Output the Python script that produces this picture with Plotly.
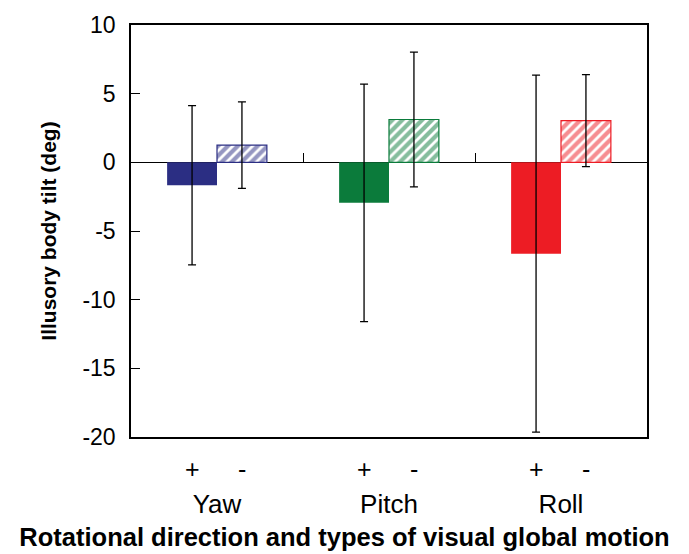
import plotly.graph_objects as go

categories = ["Yaw", "Pitch", "Roll"]
plus_vals = [-1.67, -2.95, -6.65]
plus_err = [5.8, 8.65, 13.0]
minus_vals = [1.25, 3.12, 3.04]
minus_err = [3.15, 4.9, 3.35]
colors = ["#2B2E83", "#0B7B3B", "#ED1C24"]
y_ticks = [10, 5, 0, -5, -10, -15, -20]
y_ticktext = ["10", "5", "0", "-5", "-10", "-15", "-20"]

FONT = "Liberation Sans, Arial, sans-serif"

fig = go.Figure()
fig.add_trace(go.Bar(
    x=categories, y=plus_vals, name="+",
    marker=dict(color=colors, line=dict(width=0)),
    error_y=dict(type="data", array=plus_err, color="black", thickness=1.3, width=4),
    offsetgroup="plus",
))
fig.add_trace(go.Bar(
    x=categories, y=minus_vals, name="-",
    marker=dict(color="white", line=dict(color=colors, width=1.2),
                pattern=dict(shape="/", fgcolor=colors, bgcolor="white",
                             size=7, solidity=0.6, fillmode="overlay")),
    error_y=dict(type="data", array=minus_err, color="black", thickness=1.3, width=4),
    offsetgroup="minus",
))
# invisible trace for boundary ticks on xaxis2
fig.add_trace(go.Scatter(x=[0.5, 1.5], y=[None, None], xaxis="x2", yaxis="y",
                         showlegend=False, hoverinfo="skip"))

fig.update_layout(
    width=689, height=554,
    margin=dict(l=131, r=42, t=23, b=117),
    paper_bgcolor="white", plot_bgcolor="white",
    barmode="group", bargap=0.42, bargroupgap=0,
    showlegend=False,
    font=dict(family=FONT, color="black", size=22),
    title=dict(text="<b>Rotational direction and types of visual global motion</b>",
               font=dict(size=25.5), x=0.5, xref="container", xanchor="center",
               y=0.031, yref="container", yanchor="middle"),
    xaxis=dict(
        type="category", range=[-0.5, 2.5],
        showline=True, linecolor="black", linewidth=1.5, mirror=True,
        ticks="", showgrid=False,
        tickfont=dict(size=26),
        ticklabelstandoff=43,
    ),
    xaxis2=dict(
        overlaying="x", anchor="free", position=2/3, side="bottom",
        range=[-0.5, 2.5], type="linear",
        tickvals=[0.5, 1.5], ticks="inside", ticklen=9, tickwidth=1.3, tickcolor="black",
        showticklabels=False, showline=False, showgrid=False, zeroline=False,
    ),
    yaxis=dict(
        range=[-20, 10], tickvals=y_ticks, ticktext=y_ticktext,
        showline=True, linecolor="black", linewidth=1.5, mirror=True,
        ticks="inside", ticklen=9, tickwidth=1.3, tickcolor="black",
        showgrid=False, zeroline=True, zerolinecolor="black", zerolinewidth=1.3,
        tickfont=dict(size=23), ticklabelstandoff=9,
        title=dict(text="<b>Illusory body tilt (deg)</b>", font=dict(size=21), standoff=20),
    ),
)

for i, c in enumerate(categories):
    fig.add_annotation(x=c, y=0, xref="x", yref="paper", text="+", showarrow=False,
                       xshift=-25, yshift=-32, yanchor="middle", font=dict(size=25))
    fig.add_annotation(x=c, y=0, xref="x", yref="paper", text="-", showarrow=False,
                       xshift=25, yshift=-32, yanchor="middle", font=dict(size=25))

fig.write_html("out.html")
